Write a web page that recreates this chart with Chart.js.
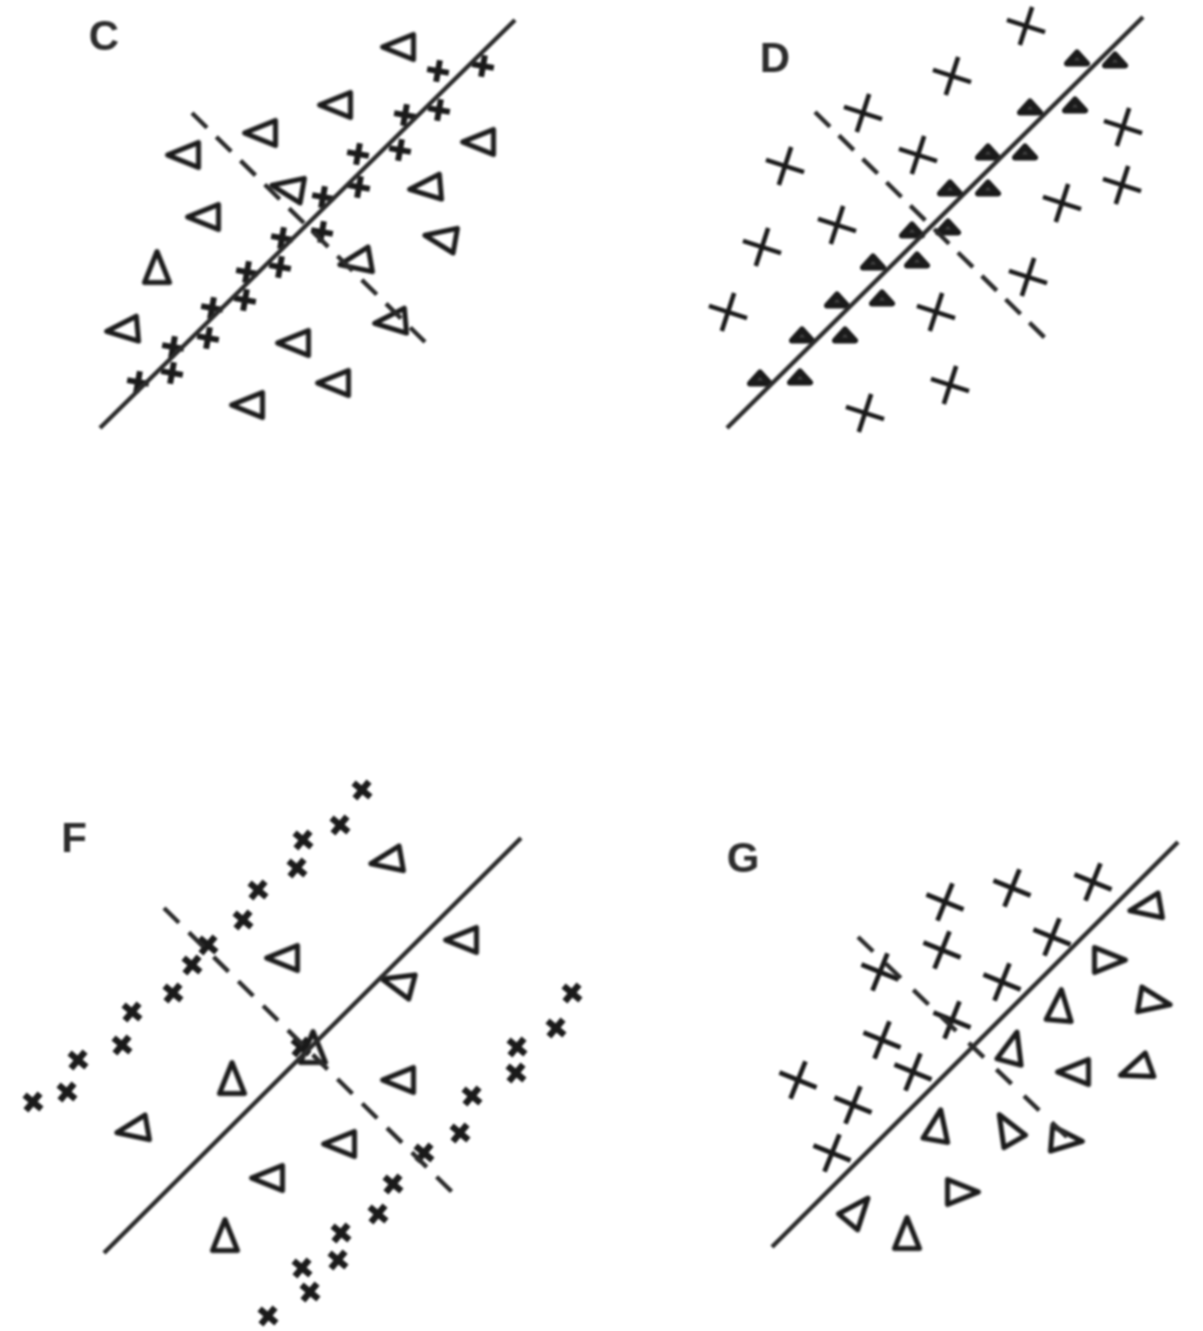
<!DOCTYPE html>
<html>
<head>
<meta charset="utf-8">
<title>C D F G</title>
<script src="https://cdn.jsdelivr.net/npm/chart.js@4/dist/chart.umd.min.js"></script>
<style>
  html, body { margin: 0; padding: 0; background: #fff; }
  #chart { display: block; filter: blur(1.3px); }
</style>
</head>
<body>
<canvas id="chart" width="1203" height="1331"></canvas>
<script>
// panel letters
const panelLetters = ["C", "D", "F", "G"];
const letterX = [104, 775, 74, 743];
const letterY = [38, 60, 840, 860];

// panel C
const cTriangles = [[398,47],[335,105],[260,133],[183,155],[478,142],[287,188],[425,188],[203,217],[440,238],[157,267],[355,262],[122,330],[390,322],[293,343],[333,383],[247,405]];
const cStars = [[438,71],[483,66],[405,115],[439,110],[358,154],[400,150],[323,197],[359,187],[282,238],[322,232],[247,272],[280,267],[212,308],[245,300],[208,338],[173,347],[172,373],[138,382]];
const cSolid = [[100,428],[515,20]];
const cDashed = [[192,113],[425,342]];

// panel D
const dTriangles = [[1077,58],[1115,60],[1030,107],[1075,105],[988,152],[1025,152],[950,188],[988,188],[912,230],[948,227],[873,262],[917,260],[837,300],[882,298],[802,335],[845,335],[760,378],[800,377]];
const dCrosses = [[1026,26],[952,76],[863,113],[918,155],[785,166],[1123,127],[1122,185],[1062,203],[837,225],[762,247],[728,312],[1028,277],[936,312],[950,385],[865,413]];
const dSolid = [[727,428],[1143,17]];
const dDashed = [[815,112],[1045,338]];

// panel F
const fTriangles = [[386,861],[282,958],[461,940],[397,983],[232,1078],[398,1080],[132,1130],[339,1144],[267,1178],[225,1235],[313,1047]];
const fStars = [[362,790],[340,825],[303,840],[297,868],[258,890],[243,920],[208,945],[192,965],[173,993],[132,1012],[122,1045],[78,1060],[67,1092],[33,1102],[572,993],[556,1028],[517,1047],[516,1073],[472,1096],[460,1133],[424,1153],[393,1184],[378,1214],[341,1233],[338,1260],[302,1268],[310,1292],[268,1316],[301,1047]];
const fSolid = [[104,1253],[521,838]];
const fDashed = [[164,908],[452,1192]];

// panel G
const gTriangles = [[1145,908],[1110,960],[1155,1002],[1060,1005],[1013,1047],[1073,1072],[1135,1070],[938,1125],[1007,1128],[1067,1140],[963,1192],[858,1210],[907,1233]];
const gCrosses = [[945,902],[1012,888],[1093,882],[942,950],[1052,937],[880,972],[1002,982],[952,1020],[882,1040],[913,1072],[798,1080],[853,1105],[832,1153]];
const gSolid = [[772,1247],[1178,842]];
const gDashed = [[858,937],[1067,1137]];

const INK = "#1a1a1a";

// which way each triangle points, degrees from "up"
const cTurn = [-90,-90,-90,-90,-90,-80,-95,-90,-80,0,-100,-95,-95,-90,-90,-90];
const dTurn = dTriangles.map(() => 0);
const fTurn = [-100,-90,-90,-75,0,-90,-100,-90,-90,0,0];
const gTurn = [-100,90,100,5,15,-90,-110,10,-30,95,90,40,0];

function toPoints(list) {
  return list.map(([x, y]) => ({ x, y }));
}

// triangle marker, apex up
function triangleMark(base, height, lineWidth, fill) {
  const size = Math.ceil(Math.max(base, height) + lineWidth * 2 + 4);
  const c = document.createElement("canvas");
  c.width = size;
  c.height = size;
  const g = c.getContext("2d");
  g.translate(size / 2, size / 2);
  g.beginPath();
  g.moveTo(0, -height / 2);
  g.lineTo(base / 2, height / 2);
  g.lineTo(-base / 2, height / 2);
  g.closePath();
  if (fill) {
    g.fillStyle = fill;
    g.fill();
  }
  g.strokeStyle = INK;
  g.lineWidth = lineWidth;
  g.lineJoin = "round";
  g.stroke();
  return c;
}

const openTriangle = triangleMark(25, 31, 5);
const smallTriangle = triangleMark(20, 11, 6, "#444");

function triangles(list, turn, mark) {
  return {
    data: toPoints(list),
    pointStyle: mark,
    pointRadius: 14,
    pointRotation: turn,
    showLine: false,
    clip: false
  };
}

function crosses(list, radius, width, turn) {
  return {
    data: toPoints(list),
    pointStyle: "cross",
    pointRadius: radius,
    pointBorderWidth: width,
    pointBorderColor: INK,
    pointRotation: turn,
    showLine: false,
    clip: false
  };
}

function rule(list, dash) {
  return {
    data: toPoints(list),
    showLine: true,
    borderColor: "#2a2a2a",
    borderWidth: dash ? 4.4 : 4.4,
    borderDash: dash || [],
    pointRadius: 0,
    clip: false
  };
}

// the panel letters, placed through the scales
const letterPlugin = {
  id: "panelLetters",
  afterDatasetsDraw(chart) {
    const { ctx, scales } = chart;
    ctx.save();
    ctx.fillStyle = "#2c2c2c";
    ctx.font = "bold 42px 'Liberation Sans'";
    ctx.textAlign = "center";
    ctx.textBaseline = "middle";
    panelLetters.forEach((letter, i) => {
      ctx.fillText(letter, scales.x.getPixelForValue(letterX[i]), scales.y.getPixelForValue(letterY[i]));
    });
    ctx.restore();
  }
};

new Chart(document.getElementById("chart"), {
  type: "scatter",
  data: {
    datasets: [
      rule(cSolid), rule(cDashed, [21, 13]),
      triangles(cTriangles, cTurn, openTriangle),
      crosses(cStars, 11, 6, 10),
      rule(dSolid), rule(dDashed, [21, 12.4]),
      triangles(dTriangles, dTurn, smallTriangle),
      crosses(dCrosses, 20, 4.6, 18),
      rule(fSolid), rule(fDashed, [21, 13.8]),
      triangles(fTriangles, fTurn, openTriangle),
      crosses(fStars, 11, 6.5, 40),
      rule(gSolid), rule(gDashed, [21, 17.3]),
      triangles(gTriangles, gTurn, openTriangle),
      crosses(gCrosses, 20, 4.8, 22)
    ]
  },
  options: {
    responsive: false,
    animation: false,
    layout: { padding: 0, autoPadding: false },
    plugins: { legend: { display: false }, tooltip: { enabled: false } },
    scales: {
      x: { type: "linear", display: false, min: 0, max: 1203 },
      y: { type: "linear", display: false, min: 0, max: 1331, reverse: true }
    }
  },
  plugins: [letterPlugin]
});
</script>
</body>
</html>
